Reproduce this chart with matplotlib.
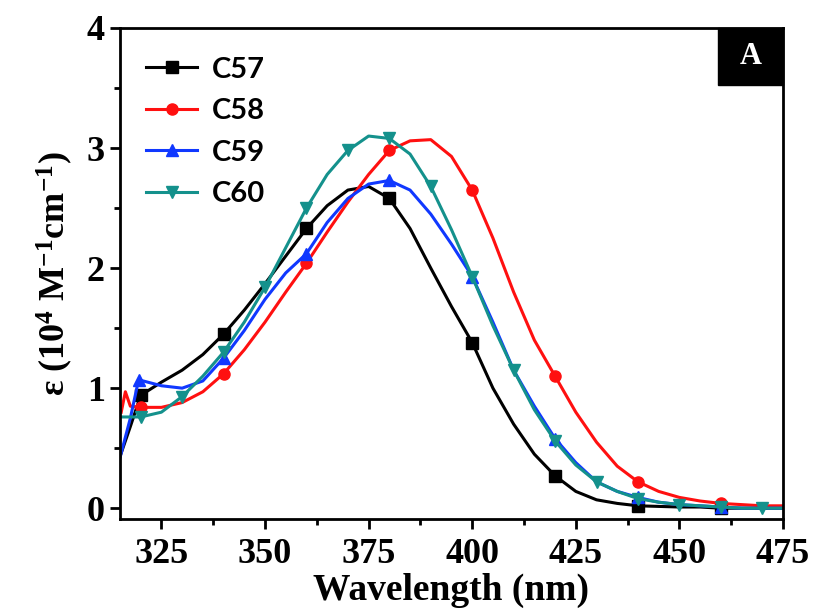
import matplotlib
matplotlib.use("Agg")
from matplotlib import pyplot as plt
from matplotlib.patches import Rectangle
from matplotlib.ticker import MultipleLocator

plt.rcParams["mathtext.fontset"] = "custom"
plt.rcParams["mathtext.rm"] = "Liberation Serif:bold"
plt.rcParams["mathtext.bf"] = "Liberation Serif:bold"
plt.rcParams["mathtext.it"] = "Liberation Serif:bold:italic"

# wavelength grids (nm) and molar absorptivity (10^4 M-1 cm-1)
grid = [320, 325, 330, 335, 340, 345, 350, 355, 360, 365, 370, 375, 380, 385, 390,
        395, 400, 405, 410, 415, 420, 425, 430, 435, 440, 445, 450, 455, 460, 465, 470, 475]

wl_c57 = [315, 317.5] + grid
eps_c57 = [0.43, 0.68, 0.94, 1.05, 1.15, 1.28, 1.45, 1.65, 1.87, 2.1, 2.33, 2.52, 2.65, 2.68,
           2.58, 2.33, 2.0, 1.68, 1.38, 1.0, 0.7, 0.45, 0.27, 0.14, 0.07, 0.04, 0.02, 0.015,
           0.01, 0.01, 0.0, 0.0, 0.0, 0.0]

wl_c58 = [315.3, 316.3, 317.5] + grid
eps_c58 = [0.8, 0.97, 0.85, 0.84, 0.84, 0.88, 0.97, 1.12, 1.32, 1.55, 1.8, 2.04, 2.3, 2.55,
           2.78, 2.98, 3.06, 3.07, 2.93, 2.65, 2.25, 1.8, 1.4, 1.1, 0.8, 0.55, 0.35, 0.22,
           0.14, 0.09, 0.06, 0.04, 0.03, 0.02, 0.02]

wl_c59 = [315, 317.5, 319.5] + grid[1:]
eps_c59 = [0.42, 0.75, 1.07, 1.02, 1.0, 1.06, 1.25, 1.48, 1.74, 1.96, 2.12, 2.38, 2.58, 2.7,
           2.73, 2.65, 2.45, 2.2, 1.93, 1.55, 1.15, 0.85, 0.58, 0.38, 0.22, 0.14, 0.09, 0.05,
           0.03, 0.02, 0.01, 0.0, 0.0, 0.0]

wl_c60 = [315] + grid
eps_c60 = [0.76, 0.76, 0.8, 0.93, 1.1, 1.3, 1.55, 1.84, 2.17, 2.5, 2.78, 2.98, 3.1, 3.08,
           2.95, 2.68, 2.32, 1.93, 1.52, 1.15, 0.82, 0.56, 0.36, 0.22, 0.14, 0.08, 0.05, 0.03,
           0.02, 0.01, 0.0, 0.0, 0.0]

mark_20 = [320, 340, 360, 380, 400, 420, 440, 460]
mark_10 = [320, 330, 340, 350, 360, 370, 380, 390, 400, 410, 420, 430, 440, 450, 460, 470]
mark_c59 = [319.5, 340, 360, 380, 400, 420, 440, 460]

xticks = [325, 350, 375, 400, 425, 450, 475]
yticks = [0, 1, 2, 3, 4]

series = [
    ("C57", wl_c57, eps_c57, "black", "s", mark_20),
    ("C58", wl_c58, eps_c58, "#ff1010", "o", mark_20),
    ("C59", wl_c59, eps_c59, "#1038ff", "^", mark_c59),
    ("C60", wl_c60, eps_c60, "#14918c", "v", mark_10),
]

fig = plt.figure(figsize=(8.14, 6.14), dpi=100)
ax = fig.add_axes([0.1474, 0.1547, 0.8145, 0.7997])

for name, wl, eps, col, mk, marks in series:
    idx = [i for i, w in enumerate(wl) if w in marks]
    ax.plot(wl, eps, color=col, lw=2.2, marker=mk, markersize=8,
            markevery=idx, label=name)

ax.set_xlim(315, 475)
ax.set_ylim(-0.09, 4)
ax.xaxis.set_minor_locator(MultipleLocator(12.5))
ax.yaxis.set_minor_locator(MultipleLocator(0.5))
ax.tick_params(which="both", direction="out", width=2, top=False, right=False)
ax.tick_params(which="major", length=7)
ax.tick_params(which="minor", length=4)
ax.tick_params(axis="x", which="major", pad=7)
ax.tick_params(axis="y", which="major", pad=4)
for s in ax.spines.values():
    s.set_linewidth(2)

serif = {"family": "Liberation Serif", "weight": "bold"}
ax.set_xticks(xticks)
ax.set_xticklabels([str(t) for t in xticks], fontdict=serif, fontsize=26)
ax.set_yticks(yticks)
ax.set_yticklabels([str(t) for t in yticks], fontdict=serif, fontsize=26)

ax.set_xlabel("Wavelength (nm)", fontdict=serif, fontsize=27, labelpad=1)
ax.set_ylabel("ε (10$^{4}$ M$^{-1}$cm$^{-1}$)", fontdict=serif, fontsize=26, labelpad=8)

ax.legend(loc="upper left", bbox_to_anchor=(0.0, 0.995), frameon=False,
          prop={"family": "Lato", "weight": "bold", "size": 21},
          handlelength=1.75, handletextpad=0.5, labelspacing=0.53)

ax.add_patch(Rectangle((1 - 0.098, 1 - 0.116), 0.098, 0.116, transform=ax.transAxes,
                       fc="black", ec="black", clip_on=False, zorder=5))
ax.text(1 - 0.049, 1 - 0.058, "A", transform=ax.transAxes, ha="center", va="center",
        color="white", fontsize=22, fontfamily="Liberation Serif", fontweight="bold", zorder=6)

fig.savefig("out.png", dpi=100)
